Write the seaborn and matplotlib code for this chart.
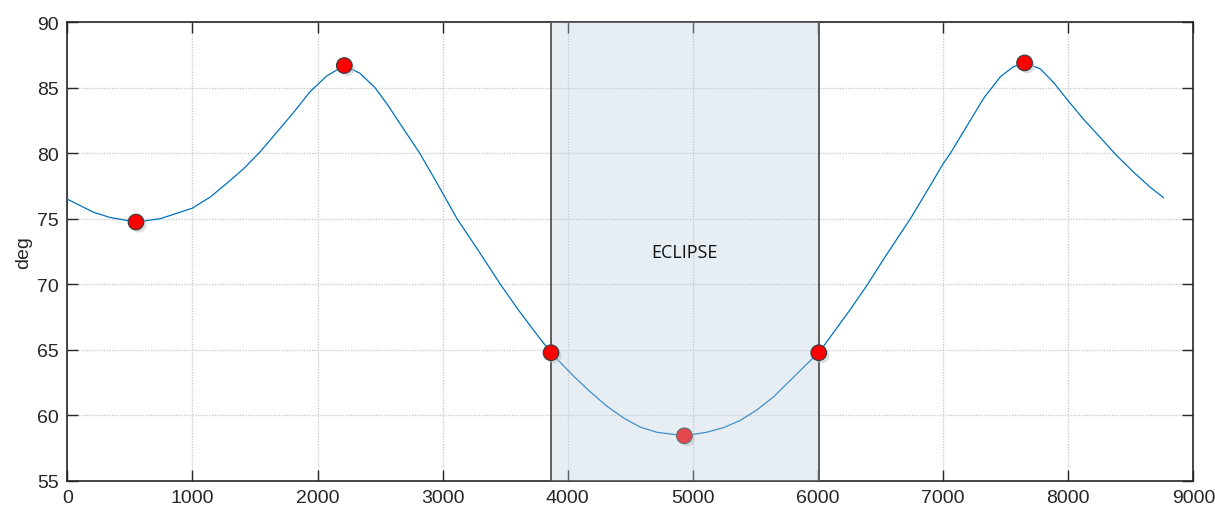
import numpy as np
import pandas as pd
import matplotlib
matplotlib.use("Agg")
import matplotlib.pyplot as plt
import matplotlib.patheffects as pe
import seaborn as sns

# === Data ===
time_s = [0, 208, 341, 549, 741, 997, 1141, 1274, 1407, 1540, 1674, 1807, 1940, 2073,
          2214, 2340, 2460, 2560, 2660, 2817, 2950, 3115, 3290, 3461, 3600, 3750, 3866,
          4045, 4178, 4311, 4444, 4578, 4711, 4932, 5111, 5244, 5378, 5511, 5644, 5777,
          5910, 6006, 6123, 6260, 6397, 6530, 6658, 6738, 6870, 7000, 7058, 7191, 7324,
          7458, 7560, 7651, 7776, 7883, 8000, 8122, 8256, 8390, 8523, 8656, 8763]
angle_deg = [76.5, 75.5, 75.1, 74.75, 75.0, 75.8, 76.65, 77.7, 78.8, 80.1, 81.6, 83.1, 84.7, 85.9,
             86.7, 86.1, 85.0, 83.7, 82.25, 80.0, 77.8, 75.0, 72.5, 70.0, 68.1, 66.2, 64.77,
             63.0, 61.8, 60.7, 59.8, 59.1, 58.7, 58.43, 58.7, 59.05, 59.6, 60.4, 61.4, 62.65,
             63.9, 64.77, 66.3, 68.1, 70.0, 72.0, 73.85, 75.0, 77.1, 79.2, 80.0, 82.1, 84.2,
             85.85, 86.6, 86.9, 86.45, 85.4, 84.0, 82.6, 81.2, 79.8, 78.55, 77.4, 76.6]

# marked points (extrema and eclipse entry/exit)
mark_t = [549, 2214, 3866, 6006, 7651]
mark_y = [74.75, 86.7, 64.77, 64.77, 86.9]
min_t = [4932]
min_y = [58.43]

eclipse_start = 3866
eclipse_end = 6011
eclipse_label = "ECLIPSE"

curve = pd.DataFrame({"t": time_s, "deg": angle_deg})
marks = pd.DataFrame({"t": mark_t, "deg": mark_y})
low = pd.DataFrame({"t": min_t, "deg": min_y})

# === Style ===
sns.set_theme(style="ticks")
plt.rcParams["font.family"] = ["Liberation Sans", "DejaVu Sans"]

fig = plt.figure(figsize=(12.15, 5.10), dpi=100)
ax = fig.add_axes([0.0554, 0.0555, 0.9268, 0.8988])

shadow = [pe.SimplePatchShadow(offset=(2, -2), shadow_rgbFace="0.75", alpha=0.5), pe.Normal()]

sns.lineplot(data=curve, x="t", y="deg", color="#0072BD", linewidth=0.9, ax=ax, zorder=3)

# point at the minimum sits under the eclipse patch
sns.scatterplot(data=low, x="t", y="deg", color="#ff0000", s=125, edgecolor="#404040",
                linewidth=0.9, ax=ax, zorder=4, path_effects=shadow)

ax.axvspan(eclipse_start, eclipse_end, facecolor="#baccdd", alpha=0.35,
           edgecolor="#4d4d4d", linewidth=1.3, zorder=5)
ax.axvline(eclipse_start, color="#5a5a5a", linewidth=1.3, zorder=5)
ax.axvline(eclipse_end, color="#5a5a5a", linewidth=1.3, zorder=5)

sns.scatterplot(data=marks, x="t", y="deg", color="#ff0000", s=125, edgecolor="#404040",
                linewidth=0.9, ax=ax, zorder=6, path_effects=shadow)

ax.text((eclipse_start + eclipse_end) / 2 - 10, 72.5, eclipse_label, ha="center", va="center",
        fontsize=13, family=["Open Sans", "DejaVu Sans"], color="#111111", zorder=7)

# === Axes ===
ax.set_xlim(0, 9000)
ax.set_ylim(55, 90)
ax.set_xticks(np.arange(0, 9001, 1000))
ax.set_yticks(np.arange(55, 91, 5))
ax.set_xlabel("")
ax.set_ylabel("deg", fontsize=14, color="#262626", labelpad=4)

ax.grid(True, color="#cccccc", linestyle=(0, (1, 1)), linewidth=1.0, zorder=0)
ax.set_axisbelow(True)
ax.tick_params(direction="in", length=8, width=1.0, top=True, right=True,
               labelsize=14, colors="#262626", pad=6)
for sp in ax.spines.values():
    sp.set_color("#262626")
    sp.set_linewidth(1.2)
    sp.set_visible(True)

fig.savefig("out.png", dpi=100)
